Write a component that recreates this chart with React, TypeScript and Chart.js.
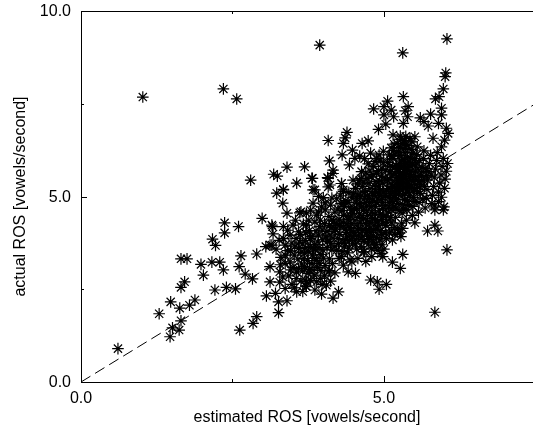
import React, { useEffect, useRef } from "react";
import { Chart, registerables } from "chart.js";

Chart.register(...registerables);

const xTicks = [0, 2.5, 5];
const yTicks = [0, 2.5, 5, 7.5, 10];
const labelledTicks = [0, 5, 10];
const guideLine = [[0, 0], [7.46, 7.46]];

const outliers = [
  [1.02, 7.68], [2.35, 7.9], [2.57, 7.63], [3.94, 9.08], [5.31, 8.87], [6.04, 9.25], [6.02, 8.33], [6.01, 8.23],
  [5.98, 7.9], [5.85, 7.63], [5.91, 7.69], [5.84, 1.88], [6.04, 3.56],
];
const lowerTail = [
  [0.61, 0.9], [1.47, 1.22], [1.51, 1.46], [1.62, 1.4], [1.65, 1.65], [1.29, 1.84], [1.63, 1.99], [1.48, 2.16],
  [1.79, 2.07], [1.88, 2.21], [1.65, 2.55], [1.71, 2.7], [2.21, 2.48], [2.4, 2.55], [2.55, 2.51], [1.65, 3.32],
  [1.75, 3.32], [1.98, 3.17], [2.02, 2.88], [2.16, 3.23], [2.29, 3.23], [2.35, 3.02], [2.17, 3.85], [2.22, 3.68],
  [2.37, 4.29], [2.37, 4.02], [2.6, 4.19], [2.64, 3.4], [2.61, 3.11], [2.71, 2.91], [2.83, 2.78], [2.9, 3.45],
  [2.99, 4.41], [3.05, 3.65], [3.12, 3.11], [3.12, 2.7], [3.06, 2.32], [3.26, 1.87], [2.9, 1.76], [2.84, 1.58],
  [2.62, 1.4], [2.8, 5.44],
];
const upperRim = [
  [3.18, 5.6], [3.24, 5.55], [3.4, 5.79], [3.56, 5.36], [3.34, 5.18], [3.23, 5.09], [5.32, 7.69], [5.06, 7.57],
  [4.83, 7.36], [5.0, 7.42], [5.12, 7.33], [5.4, 7.42], [5.35, 7.31], [5.0, 7.2], [5.16, 7.15], [5.39, 7.15],
  [5.77, 7.22], [5.6, 7.12], [5.95, 7.38], [5.95, 7.2], [5.66, 7.02], [5.73, 6.9], [5.9, 6.97], [5.03, 6.95],
  [4.91, 6.81], [5.32, 6.97], [4.39, 6.73], [4.36, 6.58], [4.33, 6.43], [4.08, 6.51], [5.15, 6.66], [6.03, 6.84],
  [6.06, 6.7], [5.81, 6.57], [6.0, 6.52], [5.95, 6.34], [5.51, 6.61], [4.48, 6.25], [4.31, 6.12], [4.64, 6.43],
  [4.74, 6.5], [4.6, 6.09], [4.52, 6.03], [4.1, 5.96], [3.69, 5.8], [4.43, 5.85], [4.16, 5.71], [3.81, 5.49],
  [4.63, 5.67], [4.07, 5.51], [4.3, 5.35], [4.49, 5.44], [4.6, 5.44], [4.11, 5.31], [3.83, 5.18], [4.33, 5.18],
  [3.92, 5.0], [4.14, 4.96], [3.33, 4.82], [3.4, 4.55], [3.61, 4.56], [3.16, 4.19], [3.17, 3.99], [3.82, 5.49],
  [3.34, 5.19], [3.63, 4.59], [3.72, 4.55], [3.15, 4.23], [3.34, 4.19], [3.5, 4.23], [3.34, 3.87], [3.15, 3.69],
  [3.86, 5.18], [3.83, 4.82], [4.08, 5.49], [4.16, 5.62], [4.3, 5.35], [4.33, 5.13], [4.08, 5.26], [4.33, 4.82],
  [3.89, 4.5], [3.72, 4.23], [3.59, 4.05], [3.45, 3.96], [3.81, 3.92], [3.94, 4.19], [4.03, 4.64], [4.14, 4.37],
];
const lowerRim = [
  [5.84, 4.64], [5.98, 4.64], [5.84, 4.75], [5.99, 4.72], [5.51, 4.29], [5.84, 4.23], [5.72, 4.07], [5.89, 4.07],
  [5.31, 3.44], [5.14, 3.23], [5.27, 3.06], [4.78, 2.75], [4.89, 2.7], [5.04, 2.63], [4.92, 2.5], [4.98, 3.38],
  [4.8, 3.38], [5.0, 3.58], [4.66, 3.51], [5.14, 3.83], [5.28, 3.92], [4.53, 2.93], [4.41, 2.97], [4.33, 3.15],
  [4.26, 3.33], [4.47, 3.24], [4.1, 3.0], [4.25, 2.43], [4.16, 2.26], [4.05, 2.61], [3.97, 2.37], [3.86, 2.48],
  [3.72, 2.57], [3.89, 2.7], [3.7, 2.75], [3.83, 3.02], [3.4, 2.19], [3.26, 2.16], [3.21, 2.39], [3.37, 2.52],
  [3.56, 2.43], [3.71, 2.59], [3.28, 2.69], [3.28, 2.97], [3.43, 2.86], [3.59, 3.06], [3.75, 2.93], [3.37, 3.2],
  [3.64, 3.18], [3.94, 3.2], [3.86, 3.33], [4.08, 2.97], [4.44, 3.29], [3.75, 3.51], [3.59, 3.6], [3.37, 3.42],
  [3.37, 3.69], [3.12, 3.69], [4.14, 3.56], [4.3, 3.38], [3.72, 2.7],
];
const middleBody = [
  [3.52, 3.42], [3.66, 3.72], [3.78, 3.64], [3.91, 3.78], [3.99, 3.56], [4.04, 3.91], [4.12, 3.74], [4.18, 4.06],
  [4.24, 3.87], [4.29, 4.18], [4.35, 3.66], [4.38, 4.03], [4.43, 3.82], [4.46, 4.27], [4.51, 3.96], [4.55, 3.58],
  [4.58, 4.14], [4.62, 3.86], [4.66, 4.41], [4.71, 4.02], [4.74, 3.72], [4.77, 4.29], [4.82, 3.94], [4.85, 4.53],
  [4.89, 4.12], [4.93, 3.83], [4.96, 4.38], [3.95, 4.36], [4.02, 4.27], [4.09, 4.46], [4.19, 4.58], [4.26, 4.39],
  [4.31, 4.62], [4.39, 4.47], [4.44, 4.71], [4.49, 4.55], [4.54, 4.83], [4.59, 4.44], [4.63, 4.72], [4.68, 4.96],
  [4.72, 4.61], [4.76, 4.84], [4.81, 5.07], [4.86, 4.73], [4.9, 4.96], [4.94, 5.18], [4.98, 4.68], [4.03, 4.83],
  [4.12, 4.77], [4.22, 4.94], [4.28, 5.02], [4.37, 4.89], [4.42, 5.11], [4.47, 4.98], [4.53, 5.22], [4.57, 5.04],
  [4.65, 5.27], [4.7, 5.13], [4.75, 5.36], [4.79, 5.52], [4.84, 5.29], [4.88, 5.63], [4.93, 5.42], [4.97, 5.74],
  [4.7, 5.64], [4.74, 5.88], [4.83, 5.81], [4.88, 6.03], [4.94, 5.96], [4.99, 6.22], [4.78, 6.17], [4.68, 6.02],
  [3.55, 3.87], [3.68, 3.33], [3.82, 3.42], [4.0, 3.34], [4.15, 3.19], [4.22, 3.55], [4.4, 3.48], [4.57, 3.33],
  [4.7, 3.25], [4.85, 3.62], [4.95, 3.46],
];
const middleFill = [
  [4.06, 4.06], [4.14, 4.16], [4.21, 4.27], [4.27, 3.98], [4.33, 4.31], [4.36, 4.12], [4.41, 4.38], [4.45, 4.09],
  [4.48, 3.74], [4.52, 4.36], [4.56, 4.21], [4.6, 4.53], [4.64, 4.08], [4.67, 3.79], [4.7, 4.27], [4.73, 4.49],
  [4.76, 4.14], [4.79, 3.86], [4.81, 4.41], [4.84, 4.23], [4.87, 3.71], [4.9, 4.34], [4.92, 4.63], [4.95, 4.08],
  [4.97, 4.84], [4.99, 4.47], [4.19, 3.66], [4.25, 3.73], [4.31, 3.52], [4.37, 3.84], [4.42, 3.61], [4.47, 3.91],
  [4.53, 3.72], [4.58, 3.94], [4.63, 3.64], [4.68, 3.51], [4.74, 3.93], [4.79, 3.59], [4.83, 3.77], [4.9, 3.55],
  [4.97, 3.7], [4.11, 3.96], [4.17, 4.34], [4.24, 4.66], [4.29, 4.81], [4.35, 4.73], [4.41, 4.84], [4.46, 4.63],
  [4.5, 5.07], [4.55, 4.94], [4.6, 4.81], [4.64, 5.12], [4.69, 4.84], [4.73, 5.02], [4.77, 5.21], [4.82, 4.9],
  [4.86, 5.14], [4.91, 5.28], [4.95, 5.03], [4.98, 5.36], [4.56, 5.34], [4.62, 5.48], [4.67, 5.37], [4.72, 5.49],
  [4.77, 5.68], [4.82, 5.59], [4.87, 5.41], [4.91, 5.7], [4.96, 5.55], [4.99, 5.91], [4.85, 5.94], [4.92, 6.12],
  [3.62, 3.97], [3.7, 3.82], [3.77, 4.08], [3.85, 3.71], [3.92, 3.96], [3.98, 4.09], [3.63, 3.49], [3.71, 3.62],
  [3.87, 3.56], [3.96, 3.44], [4.06, 3.62], [4.1, 3.32], [3.48, 3.74], [3.45, 3.24], [3.5, 3.09], [3.66, 2.99],
  [3.81, 3.19], [3.96, 3.01], [4.03, 3.14], [3.95, 2.79], [3.79, 2.74], [3.66, 2.44], [3.48, 2.63], [3.55, 2.79],
  [3.3, 3.36], [3.22, 3.58], [3.27, 3.82], [3.41, 4.09], [3.54, 4.36], [3.86, 4.31], [3.79, 4.63], [4.0, 4.97],
];
const leftBand = [
  [3.46, 3.53], [3.53, 3.66], [3.58, 3.31], [3.61, 3.77], [3.69, 3.47], [3.74, 3.27], [3.79, 3.87], [3.84, 3.59],
  [3.89, 3.28], [3.93, 3.63], [3.99, 3.83], [3.56, 2.96], [3.63, 2.72], [3.69, 3.11], [3.77, 3.03], [3.85, 2.88],
  [3.9, 3.09], [3.98, 2.63], [4.02, 2.86], [4.12, 2.72], [4.19, 2.94], [3.52, 2.54], [3.33, 2.83], [3.46, 3.02],
  [3.29, 3.16], [3.41, 3.54], [3.76, 4.36], [3.67, 4.26], [3.92, 4.58], [3.97, 4.72], [3.71, 4.02], [3.88, 4.07],
];
const bandOverlap = [
  [4.34, 3.77], [4.39, 3.93], [4.44, 4.16], [4.49, 4.03], [4.54, 3.83], [4.57, 4.07], [4.61, 4.29], [4.65, 3.93],
  [4.69, 4.13], [4.72, 4.36], [4.75, 3.84], [4.78, 4.03], [4.8, 4.58], [4.83, 4.11], [4.86, 4.36], [4.88, 3.9],
  [4.91, 4.22], [4.94, 4.52], [4.96, 3.97], [4.98, 4.28], [4.55, 4.67], [4.61, 5.0], [4.66, 4.63], [4.71, 4.74],
  [4.76, 4.95], [4.8, 4.72], [4.84, 5.03], [4.88, 4.83], [4.92, 5.1], [4.96, 4.92], [4.99, 5.12], [4.45, 4.47],
  [4.51, 4.68], [4.39, 4.26], [4.33, 4.49], [4.27, 4.22], [4.2, 4.12], [4.16, 3.88], [4.1, 4.22], [4.07, 3.79],
  [5.02, 4.76], [5.04, 5.17], [5.06, 5.44], [5.08, 4.97], [5.1, 5.67], [5.12, 4.66], [5.14, 5.27], [5.02, 5.5],
  [5.03, 5.71], [5.04, 3.87], [5.09, 4.02], [5.13, 4.09], [5.18, 3.97], [5.22, 4.11], [5.26, 4.02], [5.31, 4.14],
];
const denseCore = [
  [5.02, 4.02], [5.05, 4.31], [5.07, 4.58], [5.09, 4.84], [5.11, 5.07], [5.12, 5.33], [5.13, 5.58], [5.14, 5.81],
  [5.15, 6.02], [5.16, 6.24], [5.17, 6.41], [5.18, 4.17], [5.19, 4.44], [5.2, 4.69], [5.21, 4.93], [5.22, 5.18],
  [5.23, 5.42], [5.24, 5.67], [5.25, 5.89], [5.26, 6.11], [5.27, 6.32], [5.28, 6.54], [5.29, 4.28], [5.3, 4.55],
  [5.31, 4.79], [5.31, 5.04], [5.32, 5.27], [5.33, 5.5], [5.34, 5.73], [5.34, 5.95], [5.35, 6.18], [5.36, 6.39],
  [5.36, 6.62], [5.37, 4.36], [5.38, 4.64], [5.39, 4.88], [5.4, 5.12], [5.41, 5.36], [5.42, 5.59], [5.43, 5.82],
  [5.44, 6.04], [5.45, 6.27], [5.46, 6.47], [5.47, 4.49], [5.48, 4.73], [5.49, 4.97], [5.5, 5.21], [5.51, 5.45],
  [5.52, 5.68], [5.53, 5.91], [5.54, 6.13], [5.55, 6.34], [5.57, 4.58], [5.58, 4.84], [5.6, 5.08], [5.61, 5.33],
  [5.62, 5.56], [5.63, 5.78], [5.65, 6.02], [5.66, 6.23], [5.68, 4.69], [5.7, 4.95], [5.71, 5.19], [5.72, 5.44],
  [5.74, 5.67], [5.75, 5.89], [5.77, 6.11], [5.79, 4.81], [5.8, 5.03], [5.82, 5.27], [5.83, 5.52], [5.85, 5.74],
  [5.87, 5.97], [5.88, 6.18], [5.9, 5.12], [5.92, 5.36], [5.94, 5.58], [5.96, 5.81], [5.98, 6.03], [6.01, 5.47],
  [6.03, 5.68], [6.05, 5.89], [6.0, 5.22], [5.95, 4.98], [5.9, 4.86], [5.03, 4.22], [5.07, 5.21], [5.1, 5.47],
  [5.13, 4.29], [5.16, 4.72], [5.19, 5.03], [5.22, 5.74], [5.25, 4.62], [5.28, 5.31], [5.31, 5.62], [5.34, 4.92],
  [5.37, 5.45], [5.4, 5.71], [5.43, 5.02], [5.46, 5.29], [5.49, 5.53], [5.52, 5.82], [5.55, 5.13], [5.58, 5.41],
  [5.61, 5.64], [5.64, 4.93], [5.67, 5.27], [5.7, 5.56], [5.03, 5.03], [5.06, 5.92], [5.09, 6.12], [5.12, 6.31],
  [5.15, 4.97], [5.18, 5.26], [5.21, 5.51], [5.24, 5.06], [5.27, 5.78], [5.3, 6.01], [5.33, 6.29], [5.36, 5.22],
  [5.04, 4.48], [5.08, 4.71], [5.11, 4.43], [5.14, 4.86], [5.17, 5.14], [5.2, 5.36], [5.23, 4.81], [5.26, 5.23],
  [5.29, 5.47], [5.32, 4.66], [5.35, 5.07], [5.38, 5.79], [5.41, 4.76], [5.44, 5.54], [5.47, 5.87], [5.5, 4.86],
  [5.53, 5.32], [5.56, 5.74], [5.59, 5.97], [5.26, 5.62], [5.29, 5.96], [5.33, 5.38], [5.36, 5.88], [5.39, 6.07],
  [5.42, 5.24], [5.45, 5.68], [5.48, 6.17], [5.51, 6.02], [5.2, 5.84], [5.17, 5.63], [5.24, 6.22], [5.3, 6.43],
  [5.22, 6.43], [5.27, 6.63], [5.34, 6.51], [5.4, 6.37], [5.43, 6.56], [5.18, 6.14], [5.13, 6.09], [5.1, 5.82],
  [5.28, 5.56], [5.32, 5.82], [5.37, 5.63], [5.41, 5.93], [5.35, 5.48], [5.3, 5.17], [5.25, 5.33], [5.21, 5.22],
  [5.38, 5.31], [5.45, 5.43], [5.48, 5.15], [5.56, 5.52], [5.59, 5.25], [5.65, 5.44], [5.69, 5.76], [5.78, 5.58],
];

const clouds = [...outliers, ...lowerTail, ...upperRim, ...lowerRim, ...middleBody, ...middleFill, ...leftBand, ...bandOverlap, ...denseCore];

const font = { family: "'Liberation Sans', Arial, sans-serif", size: 16 };

const innerTicks = {
  id: "innerTicks",
  afterDatasetsDraw(chart: any) {
    const { ctx, chartArea: a, scales } = chart;
    ctx.save();
    ctx.strokeStyle = "#000";
    ctx.lineWidth = 1;
    ctx.beginPath();
    ctx.moveTo(a.left, a.top + 0.5);
    ctx.lineTo(a.right, a.top + 0.5);
    xTicks.forEach((v) => {
      const p = Math.round(scales.x.getPixelForValue(v)) + 0.5;
      const l = labelledTicks.includes(v) ? 6 : 3;
      ctx.moveTo(p, a.bottom);
      ctx.lineTo(p, a.bottom - l);
      ctx.moveTo(p, a.top);
      ctx.lineTo(p, a.top + l);
    });
    yTicks.forEach((v) => {
      const p = Math.round(scales.y.getPixelForValue(v)) + 0.5;
      const l = labelledTicks.includes(v) ? 6 : 3;
      ctx.moveTo(a.left, p);
      ctx.lineTo(a.left + l, p);
    });
    ctx.stroke();
    ctx.restore();
  },
};

export default function App() {
  const ref = useRef<HTMLCanvasElement>(null);
  useEffect(() => {
    const chart = new Chart(ref.current!, {
      type: "scatter",
      data: {
        datasets: [
          {
            data: clouds.map(([x, y]) => ({ x, y })),
            pointStyle: "star",
            pointRadius: 5.8,
            pointBorderColor: "#000",
            pointBackgroundColor: "#000",
            pointBorderWidth: 1.2,
            showLine: false,
          },
          {
            data: guideLine.map(([x, y]) => ({ x, y })),
            showLine: true,
            pointRadius: 0,
            borderColor: "#000",
            borderWidth: 1,
            borderDash: [11, 5.5],
          },
        ],
      },
      options: {
        animation: false,
        responsive: false,
        layout: { autoPadding: false, padding: { top: 11, right: 0, left: 0, bottom: 0 } },
        plugins: { legend: { display: false }, tooltip: { enabled: false } },
        scales: {
          x: {
            type: "linear",
            min: 0,
            max: 7.46,
            afterBuildTicks: (s: any) => { s.ticks = xTicks.map((value) => ({ value })); },
            afterFit: (s: any) => { s.height = 45; s.paddingLeft = 0; s.paddingRight = 0; },
            grid: { display: false, drawTicks: false },
            border: { color: "#000", width: 1 },
            ticks: {
              color: "#000",
              font,
              padding: 7,
              maxRotation: 0,
              autoSkip: false,
              callback: (v: any) => (labelledTicks.includes(v) ? Number(v).toFixed(1) : ""),
            },
            title: { display: true, text: "estimated ROS [vowels/second]", color: "#000", font, padding: { top: 3, bottom: 0 } },
          },
          y: {
            type: "linear",
            min: 0,
            max: 10,
            afterBuildTicks: (s: any) => { s.ticks = yTicks.map((value) => ({ value })); },
            afterFit: (s: any) => { s.width = 81; s.paddingTop = 0; s.paddingBottom = 0; },
            grid: { display: false, drawTicks: false },
            border: { color: "#000", width: 1 },
            ticks: {
              color: "#000",
              font,
              padding: 10,
              labelOffset: 1,
              autoSkip: false,
              callback: (v: any) => (labelledTicks.includes(v) ? Number(v).toFixed(1) : ""),
            },
            title: { display: true, text: "actual ROS [vowels/second]", color: "#000", font, padding: { top: 11, bottom: 0 } },
          },
        },
      },
      plugins: [innerTicks],
    });
    return () => chart.destroy();
  }, []);
  return (
    <div style={{ position: "fixed", left: 0, top: 0, width: 533, height: 427, background: "#fff" }}>
      <canvas ref={ref} width={533} height={427} style={{ display: "block" }} />
    </div>
  );
}
